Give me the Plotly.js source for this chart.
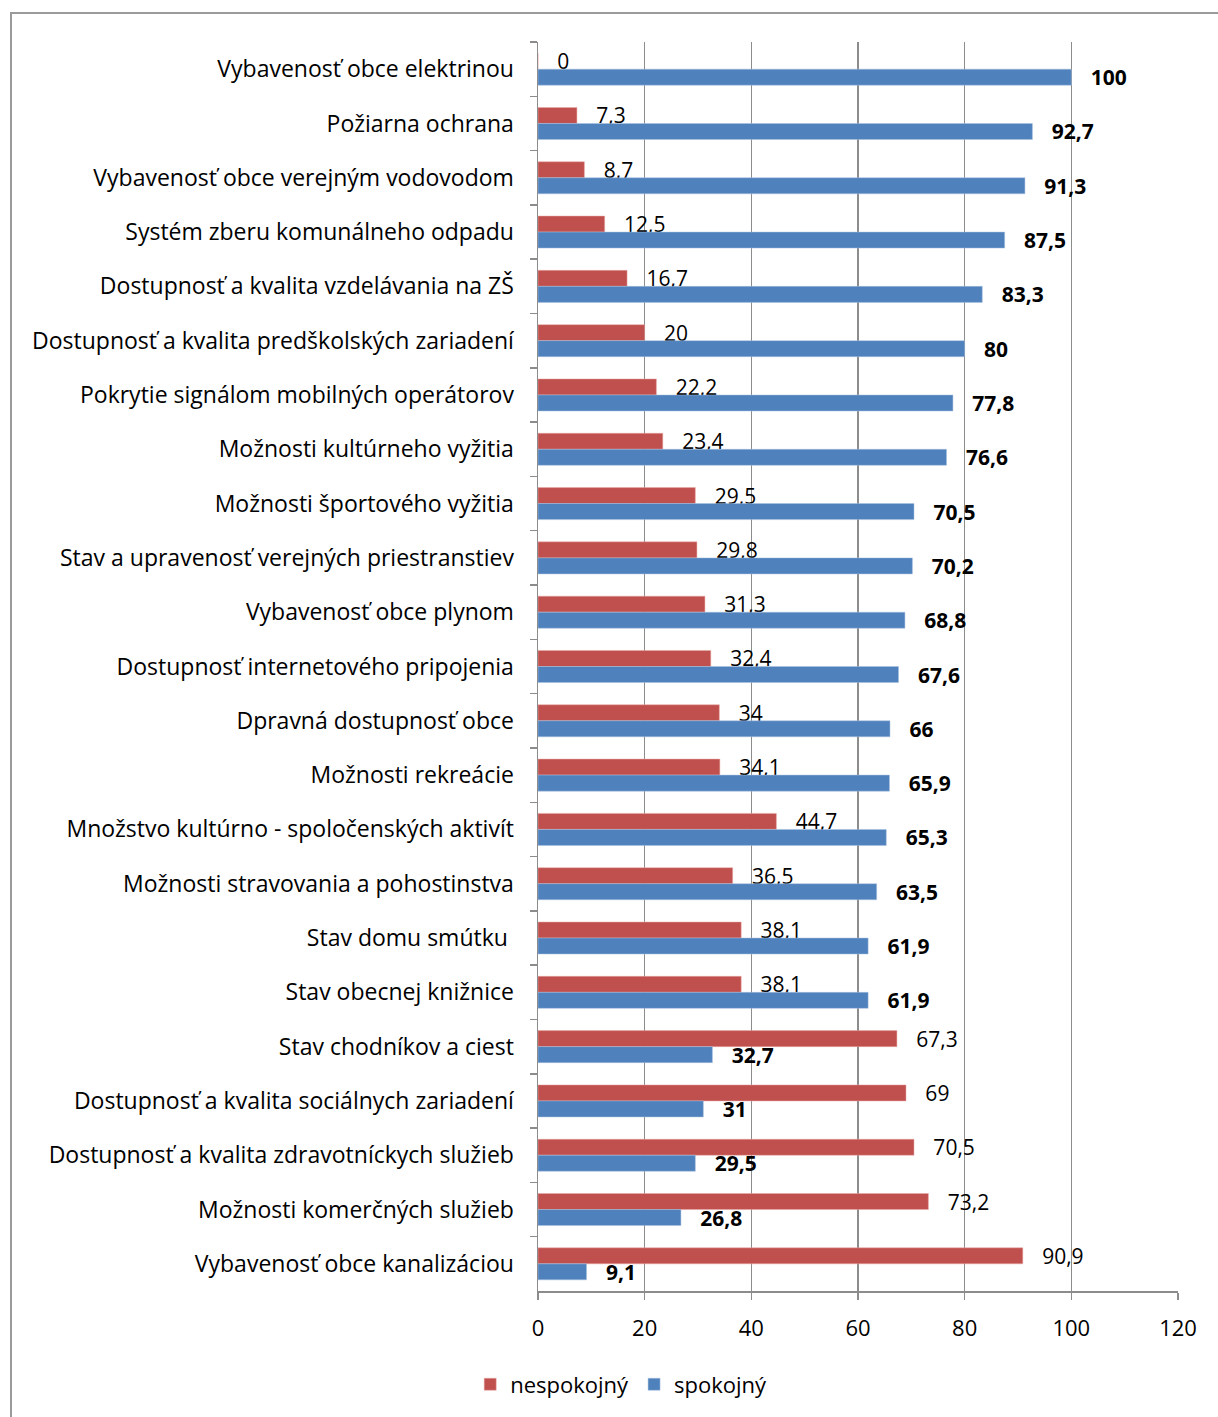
<!DOCTYPE html>
<html>
<head>
<meta charset="utf-8">
<script src="https://cdn.plot.ly/plotly-3.0.1.min.js"></script>
<style>
html,body{margin:0;padding:0;background:#fff;overflow:hidden;}
#frame{position:absolute;left:10px;top:12px;width:1300px;height:1500px;border-left:2px solid #9a9a9a;border-top:2px solid #9a9a9a;pointer-events:none;z-index:10;}
#chart{position:absolute;left:0;top:0;width:1218px;height:1417px;}
</style>
</head>
<body>
<div id="chart"></div>
<div id="frame"></div>
<script>
const categories = [
  "Vybavenosť obce elektrinou",
  "Požiarna ochrana",
  "Vybavenosť obce verejným vodovodom",
  "Systém zberu komunálneho odpadu",
  "Dostupnosť a kvalita vzdelávania na ZŠ",
  "Dostupnosť a kvalita predškolských zariadení",
  "Pokrytie signálom mobilných operátorov",
  "Možnosti kultúrneho vyžitia",
  "Možnosti športového vyžitia",
  "Stav a upravenosť verejných priestranstiev",
  "Vybavenosť obce plynom",
  "Dostupnosť internetového pripojenia",
  "Dpravná dostupnosť obce",
  "Možnosti rekreácie",
  "Množstvo kultúrno - spoločenských aktivít",
  "Možnosti stravovania a pohostinstva",
  "Stav domu smútku ",
  "Stav obecnej knižnice",
  "Stav chodníkov a ciest",
  "Dostupnosť a kvalita sociálnych zariadení",
  "Dostupnosť a kvalita zdravotníckych služieb",
  "Možnosti komerčných služieb",
  "Vybavenosť obce kanalizáciou"
];
const nespokojny = [0, 7.3, 8.7, 12.5, 16.7, 20, 22.2, 23.4, 29.5, 29.8, 31.3, 32.4, 34, 34.1, 44.7, 36.5, 38.1, 38.1, 67.3, 69, 70.5, 73.2, 90.9];
const spokojny = [100, 92.7, 91.3, 87.5, 83.3, 80, 77.8, 76.6, 70.5, 70.2, 68.8, 67.6, 66, 65.9, 65.3, 63.5, 61.9, 61.9, 32.7, 31, 29.5, 26.8, 9.1];
const seriesNames = ["nespokojný", "spokojný"];
const xTicks = [0, 20, 40, 60, 80, 100, 120];

const FONT = "Open Sans, Lato, sans-serif";

const traces = [
  {
    type: "bar", orientation: "h", name: seriesNames[0],
    y: categories, x: nespokojny,
    marker: {color: "#C0504D", line: {color: "#e8a9a7", width: 0.5}},
    texttemplate: "   %{x}", textposition: "outside", cliponaxis: false,
    constraintext: "none",
    textfont: {family: FONT, size: 21, color: "#000"},
    hoverinfo: "x+y"
  },
  {
    type: "bar", orientation: "h", name: seriesNames[1],
    y: categories, x: spokojny,
    marker: {color: "#4F81BD", line: {color: "#a9c0de", width: 0.5}},
    texttemplate: "   <b>%{x}</b>", textposition: "outside", cliponaxis: false,
    constraintext: "none",
    textfont: {family: FONT, size: 21, color: "#000"},
    hoverinfo: "x+y"
  }
];

const layout = {
  width: 1218, height: 1417,
  margin: {l: 538, r: 40, t: 42, b: 124},
  paper_bgcolor: "#fff", plot_bgcolor: "#fff",
  separators: ", ",
  barmode: "group",
  bargap: 0.41, bargroupgap: 0,
  font: {family: FONT, size: 21, color: "#000"},
  showlegend: true,
  legend: {orientation: "h", x: 0.13, xanchor: "center", y: -0.058, yanchor: "top",
           font: {family: FONT, size: 22, color: "#000"}, traceorder: "normal"},
  xaxis: {
    range: [0, 120], tickvals: xTicks, ticktext: xTicks.map(String),
    showgrid: true, gridcolor: "#8c8c8c", gridwidth: 1.5,
    showline: true, linecolor: "#8c8c8c", linewidth: 1.5,
    ticks: "outside", ticklen: 7, tickcolor: "#8c8c8c", tickwidth: 1.5,
    ticklabelstandoff: 10,
    tickfont: {family: FONT, size: 22, color: "#000"},
    zeroline: false, fixedrange: true
  },
  yaxis: {
    type: "category", autorange: "reversed",
    showline: true, linecolor: "#8c8c8c", linewidth: 1.5,
    ticks: "outside", tickson: "boundaries", ticklen: 7, tickcolor: "#8c8c8c", tickwidth: 1.5,
    ticklabelstandoff: 18,
    tickfont: {family: FONT, size: 23, color: "#000"},
    showgrid: false, zeroline: false, fixedrange: true
  }
};

Plotly.newPlot("chart", traces, layout, {displayModeBar: false, staticPlot: true});
</script>
</body>
</html>
